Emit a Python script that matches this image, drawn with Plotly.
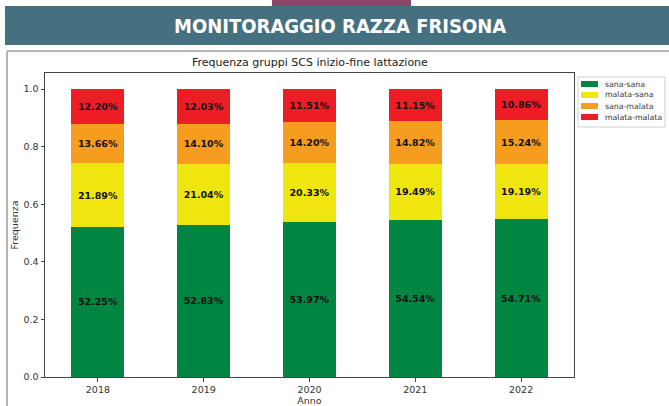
import plotly.graph_objects as go

years = ["2018", "2019", "2020", "2021", "2022"]
n_labels = ["N=434,325", "N=430,283", "N=461,164", "N=461,046", "N=427,632"]
sana_sana = [52.25, 52.83, 53.97, 54.54, 54.71]
malata_sana = [21.89, 21.04, 20.33, 19.49, 19.19]
sana_malata = [13.66, 14.10, 14.20, 14.82, 15.24]
malata_malata = [12.20, 12.03, 11.51, 11.15, 10.86]

series = [
    ("sana-sana", sana_sana, "#008641"),
    ("malata-sana", malata_sana, "#F0E60F"),
    ("sana-malata", sana_malata, "#F69C1E"),
    ("malata-malata", malata_malata, "#EC1D25"),
]

W, H = 669, 406
L, R, T, B = 45, 574, 73, 377


def px_x(p):
    return (p - L) / (R - L)


def px_y(p):
    return (B - p) / (B - T)


fig = go.Figure()
for name, vals, col in series:
    fig.add_trace(go.Bar(
        x=years, y=[v / 100 for v in vals], name=name,
        marker=dict(color=col, line=dict(width=0)),
        width=0.5,
        text=[f"{v:.2f}%" for v in vals],
        textposition="inside", insidetextanchor="middle", textangle=0,
        textfont=dict(family="DejaVu Sans", size=9.5, color="#111111", weight="bold"),
        hoverinfo="skip", showlegend=False,
    ))

annotations = []
for yr, lab in zip(years, n_labels):
    annotations.append(dict(x=yr, y=1.0, xref="x", yref="y", text=lab, showarrow=False,
                            xanchor="center", yanchor="bottom", yshift=-1,
                            font=dict(family="DejaVu Sans", size=9.5, color="#222222")))
annotations.append(dict(x=0.5, y=px_y(62), xref="paper", yref="paper",
                        xanchor="center", yanchor="middle",
                        text="Frequenza gruppi SCS inizio-fine lattazione", showarrow=False,
                        font=dict(family="DejaVu Sans", size=11, color="#222222")))
annotations.append(dict(x=px_x(340), y=px_y(25.5), xref="paper", yref="paper",
                        xanchor="center", yanchor="middle",
                        text="<b>MONITORAGGIO RAZZA FRISONA</b>", showarrow=False,
                        font=dict(family="DejaVu Sans Condensed", size=20, color="white")))

shapes = [
    dict(type="rect", xref="paper", yref="paper", x0=px_x(5), x1=px_x(669),
         y0=px_y(45), y1=px_y(6), fillcolor="#45707F", line=dict(width=0), layer="below"),
    dict(type="rect", xref="paper", yref="paper", x0=px_x(272), x1=px_x(411),
         y0=px_y(6), y1=px_y(0), fillcolor="#8F4468", line=dict(width=0), layer="below"),
    dict(type="line", xref="paper", yref="paper", x0=px_x(7), x1=px_x(7),
         y0=px_y(51), y1=px_y(406), line=dict(color="#B4B4B4", width=2)),
    dict(type="line", xref="paper", yref="paper", x0=px_x(7), x1=px_x(669),
         y0=px_y(51), y1=px_y(51), line=dict(color="#B4B4B4", width=2)),
    # legend frame
    dict(type="rect", xref="paper", yref="paper", x0=px_x(578), x1=px_x(665),
         y0=px_y(127), y1=px_y(77), fillcolor="white", line=dict(color="#D0D0D0", width=1)),
]

# legend entries (symbol + label), built from the series list
for i, (name, vals, col) in enumerate(series):
    cy = 84 + i * 11
    shapes.append(dict(type="rect", xref="paper", yref="paper", x0=px_x(581), x1=px_x(598),
                       y0=px_y(cy + 3), y1=px_y(cy - 3), fillcolor=col, line=dict(width=0)))
    annotations.append(dict(x=px_x(603), y=px_y(cy), xref="paper", yref="paper",
                            xanchor="left", yanchor="middle", text=name, showarrow=False,
                            font=dict(family="DejaVu Sans", size=7.8, color="#333333")))

fig.update_layout(
    width=W, height=H,
    margin=dict(l=L, r=W - R, t=T, b=H - B, pad=0, autoexpand=False),
    barmode="stack", bargap=0.5,
    paper_bgcolor="white", plot_bgcolor="white",
    font=dict(family="DejaVu Sans", size=9.5, color="#333333"),
    showlegend=False,
    annotations=annotations,
    shapes=shapes,
    uniformtext=dict(minsize=6, mode="show"),
)
fig.update_xaxes(type="category", range=[-0.5, 4.5], showline=True, mirror=True,
                 linecolor="#444444", linewidth=1, ticks="outside", ticklen=3.5,
                 tickcolor="#444444", showgrid=False, zeroline=False, automargin=False,
                 title=dict(text="Anno", standoff=2, font=dict(size=9.5)),
                 tickfont=dict(size=9.5))
fig.update_yaxes(range=[0, 1.0556], showline=True, mirror=True,
                 linecolor="#444444", linewidth=1, ticks="outside", ticklen=3.5,
                 tickcolor="#444444", showgrid=False, zeroline=False, automargin=False,
                 tickvals=[0, 0.2, 0.4, 0.6, 0.8, 1.0],
                 ticktext=["0.0", "0.2", "0.4", "0.6", "0.8", "1.0"],
                 title=dict(text="Frequenza", standoff=3, font=dict(size=9.5)),
                 tickfont=dict(size=9.5))

fig.write_html("out.html", config={"displayModeBar": False},
               post_script="document.body.style.margin='0';document.body.style.overflow='hidden';")
